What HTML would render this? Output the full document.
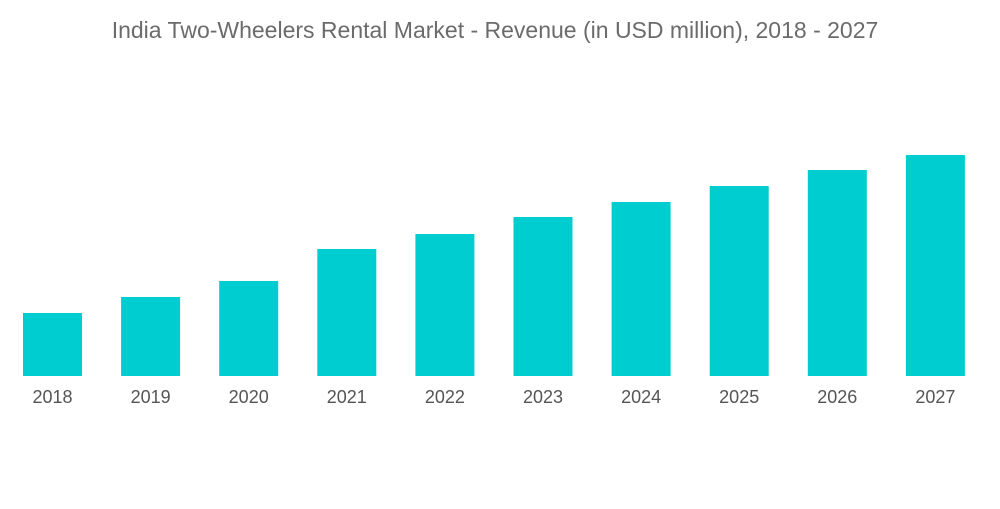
<!DOCTYPE html>
<html>
<head>
<meta charset="utf-8">
<style>
  html, body { margin: 0; padding: 0; background: #fff; }
  body { width: 1000px; height: 504px; overflow: hidden; font-family: "Liberation Sans", sans-serif; }
</style>
</head>
<body>
<svg id="chart" width="1000" height="504" viewBox="0 0 1000 504" xmlns="http://www.w3.org/2000/svg">
  <text x="495" y="38" text-anchor="middle" font-family="Liberation Sans, sans-serif" font-size="23" fill="#6b6b6b">India Two-Wheelers Rental Market - Revenue (in USD million), 2018 -  2027</text>
  <g id="bars"></g>
  <g id="xlabels"></g>
</svg>
<script>
const categories = ["2018","2019","2020","2021","2022","2023","2024","2025","2026","2027"];
const values = [63, 79, 95, 127, 142, 159, 174, 190, 206, 221];
const baseline = 376;
const pxPerUnit = 1;
const firstLeft = 23, step = 98.1, barW = 59;
function xPos(i) { return firstLeft + i * step; }
function yPos(v) { return baseline - v * pxPerUnit; }
const ns = "http://www.w3.org/2000/svg";
const barsG = document.getElementById("bars");
const labelsG = document.getElementById("xlabels");
categories.forEach((c, i) => {
  const r = document.createElementNS(ns, "rect");
  r.setAttribute("x", xPos(i));
  r.setAttribute("y", yPos(values[i]));
  r.setAttribute("width", barW);
  r.setAttribute("height", baseline - yPos(values[i]));
  r.setAttribute("fill", "#00cdd0");
  
  
  barsG.appendChild(r);
  const t = document.createElementNS(ns, "text");
  t.setAttribute("x", xPos(i) + barW / 2);
  t.setAttribute("y", 403);
  t.setAttribute("text-anchor", "middle");
  t.setAttribute("font-size", "18");
  t.setAttribute("fill", "#555");
  t.setAttribute("font-family", "Liberation Sans, sans-serif");
  t.textContent = c;
  
  
  labelsG.appendChild(t);
});
</script>
</body>
</html>
